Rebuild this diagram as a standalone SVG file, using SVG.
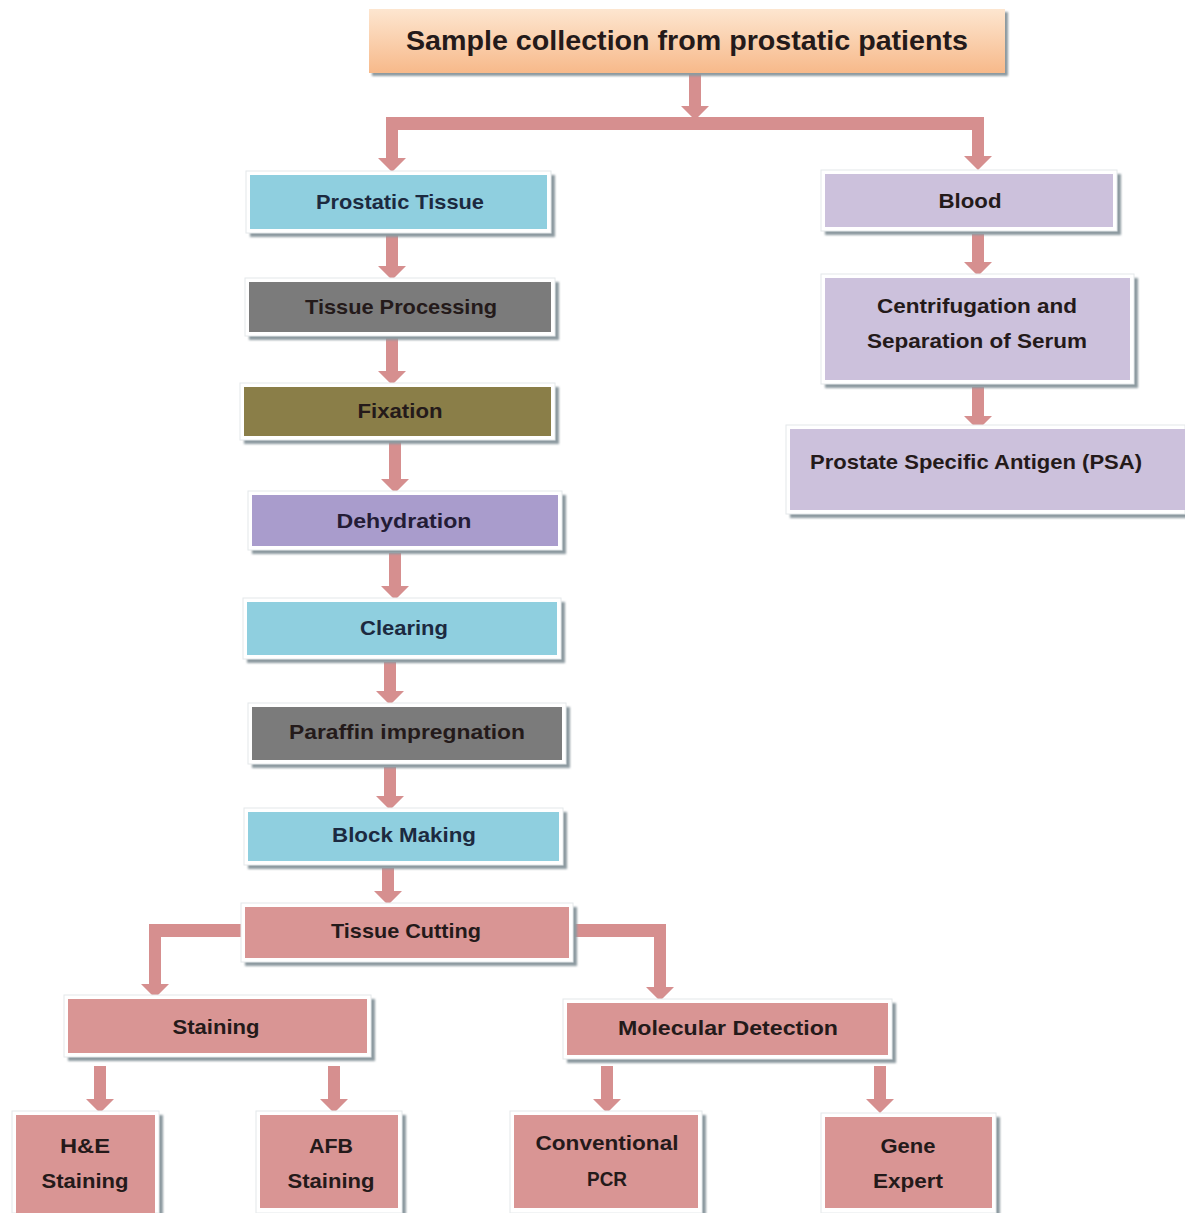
<svg xmlns="http://www.w3.org/2000/svg" width="1185" height="1213" viewBox="0 0 1185 1213">
<defs>
<linearGradient id="gTitle" x1="0" y1="0" x2="0" y2="1">
<stop offset="0" stop-color="#fde6d0"/>
<stop offset="1" stop-color="#f7b98a"/>
</linearGradient>
<filter id="blur" x="-5%" y="-5%" width="110%" height="120%"><feGaussianBlur stdDeviation="1.2"/></filter>
</defs>
<style>
.sh{fill:#8d9aa0;filter:url(#blur)}
.fr{fill:#ffffff;stroke:#e4e8ea;stroke-width:1}
.blue{fill:#8fcfdf}
.gray{fill:#7b7b7b}
.olive{fill:#8a7e48}
.purple{fill:#a99ccc}
.lav{fill:#ccc1dc}
.rose{fill:#d99594}
.arr{fill:#d68f8f}
text{font-family:"Liberation Sans",Arial,sans-serif;font-weight:bold;font-size:21px;text-anchor:middle;fill:#241a1a}
.tb{fill:#1c2a40}
.tp{fill:#241c36}
</style>
<rect width="1185" height="1213" fill="#ffffff"/>

<g id="connectors">
<polygon class="arr" points="689,74 701,74 701,106 709,106 695,120 681,106 689,106"/>
<rect class="arr" x="386" y="117" width="598" height="13"/>
<polygon class="arr" points="386,117 398,117 398,158 406,158 392,172 378,158 386,158"/>
<polygon class="arr" points="972,117 984,117 984,156 992,156 978,170 964,156 972,156"/>
<polygon class="arr" points="386,234 398,234 398,266 406,266 392,280 378,266 386,266"/>
<polygon class="arr" points="386,338 398,338 398,371 406,371 392,385 378,371 386,371"/>
<polygon class="arr" points="389,442 401,442 401,479 409,479 395,493 381,479 389,479"/>
<polygon class="arr" points="389,553 401,553 401,586 409,586 395,600 381,586 389,586"/>
<polygon class="arr" points="384,662 396,662 396,691 404,691 390,705 376,691 384,691"/>
<polygon class="arr" points="384,767 396,767 396,796 404,796 390,810 376,796 384,796"/>
<polygon class="arr" points="382,868 394,868 394,891 402,891 388,905 374,891 382,891"/>
<polygon class="arr" points="972,234 984,234 984,262 992,262 978,276 964,262 972,262"/>
<polygon class="arr" points="972,387 984,387 984,416 992,416 978,430 964,416 972,416"/>
<polygon class="arr" points="243,924 243,937 161,937 161,984 169,984 155,998 141,984 149,984 149,924"/>
<polygon class="arr" points="574,924 574,937 654,937 654,987 646,987 660,1001 674,987 666,987 666,924"/>
<polygon class="arr" points="94,1066 106,1066 106,1099 114,1099 100,1113 86,1099 94,1099"/>
<polygon class="arr" points="328,1066 340,1066 340,1099 348,1099 334,1113 320,1099 328,1099"/>
<polygon class="arr" points="601,1066 613,1066 613,1099 621,1099 607,1113 593,1099 601,1099"/>
<polygon class="arr" points="874,1066 886,1066 886,1099 894,1099 880,1113 866,1099 874,1099"/>
</g>

<g id="n-title">
<rect class="sh" x="372" y="12" width="636" height="64"/>
<rect x="369" y="9" width="636" height="64" fill="url(#gTitle)"/>
<text x="687" y="50" style="font-size:28px" fill="#2a1a10" textLength="562" lengthAdjust="spacingAndGlyphs">Sample collection from prostatic patients</text>
</g>

<g id="n-prostatic">
<rect class="sh" x="250" y="175" width="305" height="62"/>
<rect class="fr" x="246" y="171" width="305" height="62"/>
<rect class="blue" x="250" y="175" width="297" height="54"/>
<text class="tb" x="400" y="209" textLength="168" lengthAdjust="spacingAndGlyphs">Prostatic Tissue</text>
</g>

<g id="n-blood">
<rect class="sh" x="825" y="174" width="296" height="61"/>
<rect class="fr" x="821" y="170" width="296" height="61"/>
<rect class="lav" x="825" y="174" width="288" height="53"/>
<text x="970" y="208" textLength="63" lengthAdjust="spacingAndGlyphs">Blood</text>
</g>

<g id="n-tproc">
<rect class="sh" x="249" y="282" width="310" height="58"/>
<rect class="fr" x="245" y="278" width="310" height="58"/>
<rect class="gray" x="249" y="282" width="302" height="50"/>
<text x="401" y="314" textLength="192" lengthAdjust="spacingAndGlyphs">Tissue  Processing</text>
</g>

<g id="n-fix">
<rect class="sh" x="244" y="387" width="315" height="57"/>
<rect class="fr" x="240" y="383" width="315" height="57"/>
<rect class="olive" x="244" y="387" width="307" height="49"/>
<text x="400" y="418" textLength="85" lengthAdjust="spacingAndGlyphs">Fixation</text>
</g>

<g id="n-dehyd">
<rect class="sh" x="252" y="495" width="314" height="59"/>
<rect class="fr" x="248" y="491" width="314" height="59"/>
<rect class="purple" x="252" y="495" width="306" height="51"/>
<text class="tp" x="404" y="528" textLength="135" lengthAdjust="spacingAndGlyphs">Dehydration</text>
</g>

<g id="n-clear">
<rect class="sh" x="247" y="602" width="318" height="61"/>
<rect class="fr" x="243" y="598" width="318" height="61"/>
<rect class="blue" x="247" y="602" width="310" height="53"/>
<text class="tb" x="404" y="635" textLength="88" lengthAdjust="spacingAndGlyphs">Clearing</text>
</g>

<g id="n-paraffin">
<rect class="sh" x="252" y="707" width="318" height="61"/>
<rect class="fr" x="248" y="703" width="318" height="61"/>
<rect class="gray" x="252" y="707" width="310" height="53"/>
<text x="407" y="739" textLength="236" lengthAdjust="spacingAndGlyphs">Paraffin impregnation</text>
</g>

<g id="n-block">
<rect class="sh" x="248" y="812" width="319" height="57"/>
<rect class="fr" x="244" y="808" width="319" height="57"/>
<rect class="blue" x="248" y="812" width="311" height="49"/>
<text class="tb" x="404" y="842" textLength="144" lengthAdjust="spacingAndGlyphs">Block Making</text>
</g>

<g id="n-cutting">
<rect class="sh" x="245" y="907" width="332" height="59"/>
<rect class="fr" x="241" y="903" width="332" height="59"/>
<rect class="rose" x="245" y="907" width="324" height="51"/>
<text x="406" y="938" textLength="150" lengthAdjust="spacingAndGlyphs">Tissue Cutting</text>
</g>

<g id="n-staining">
<rect class="sh" x="68" y="999" width="307" height="62"/>
<rect class="fr" x="64" y="995" width="307" height="62"/>
<rect class="rose" x="68" y="999" width="299" height="54"/>
<text x="216" y="1034" textLength="87" lengthAdjust="spacingAndGlyphs">Staining</text>
</g>

<g id="n-molecular">
<rect class="sh" x="567" y="1003" width="329" height="60"/>
<rect class="fr" x="563" y="999" width="329" height="60"/>
<rect class="rose" x="567" y="1003" width="321" height="52"/>
<text x="728" y="1035" textLength="220" lengthAdjust="spacingAndGlyphs">Molecular Detection</text>
</g>

<g id="n-he">
<rect class="sh" x="16" y="1115" width="147" height="100"/>
<rect class="fr" x="12" y="1111" width="147" height="102"/>
<rect class="rose" x="16" y="1115" width="139" height="98"/>
<text x="85" y="1153" textLength="50" lengthAdjust="spacingAndGlyphs">H&amp;E</text>
<text x="85" y="1188" textLength="87" lengthAdjust="spacingAndGlyphs">Staining</text>
</g>

<g id="n-afb">
<rect class="sh" x="260" y="1115" width="146" height="100"/>
<rect class="fr" x="256" y="1111" width="146" height="102"/>
<rect class="rose" x="260" y="1115" width="138" height="93"/>
<text x="331" y="1153" textLength="44" lengthAdjust="spacingAndGlyphs">AFB</text>
<text x="331" y="1188" textLength="87" lengthAdjust="spacingAndGlyphs">Staining</text>
</g>

<g id="n-pcr">
<rect class="sh" x="514" y="1115" width="192" height="100"/>
<rect class="fr" x="510" y="1111" width="192" height="102"/>
<rect class="rose" x="514" y="1115" width="184" height="93"/>
<text x="607" y="1150" textLength="143" lengthAdjust="spacingAndGlyphs">Conventional</text>
<text x="607" y="1186" textLength="40" lengthAdjust="spacingAndGlyphs">PCR</text>
</g>

<g id="n-gene">
<rect class="sh" x="825" y="1117" width="175" height="98"/>
<rect class="fr" x="821" y="1113" width="175" height="100"/>
<rect class="rose" x="825" y="1117" width="167" height="91"/>
<text x="908" y="1153" textLength="55" lengthAdjust="spacingAndGlyphs">Gene</text>
<text x="908" y="1188" textLength="70" lengthAdjust="spacingAndGlyphs">Expert</text>
</g>

<g id="n-centri">
<rect class="sh" x="825" y="278" width="313" height="110"/>
<rect class="fr" x="821" y="274" width="313" height="110"/>
<rect class="lav" x="825" y="278" width="305" height="102"/>
<text x="977" y="313" textLength="200" lengthAdjust="spacingAndGlyphs">Centrifugation and</text>
<text x="977" y="348" textLength="220" lengthAdjust="spacingAndGlyphs">Separation of Serum</text>
</g>

<g id="n-psa">
<rect class="sh" x="790" y="429" width="398" height="89"/>
<rect class="fr" x="786" y="425" width="399" height="89"/>
<rect class="lav" x="790" y="429" width="395" height="81"/>
<text x="976" y="469" textLength="332" lengthAdjust="spacingAndGlyphs">Prostate Specific Antigen (PSA)</text>
</g>
</svg>
